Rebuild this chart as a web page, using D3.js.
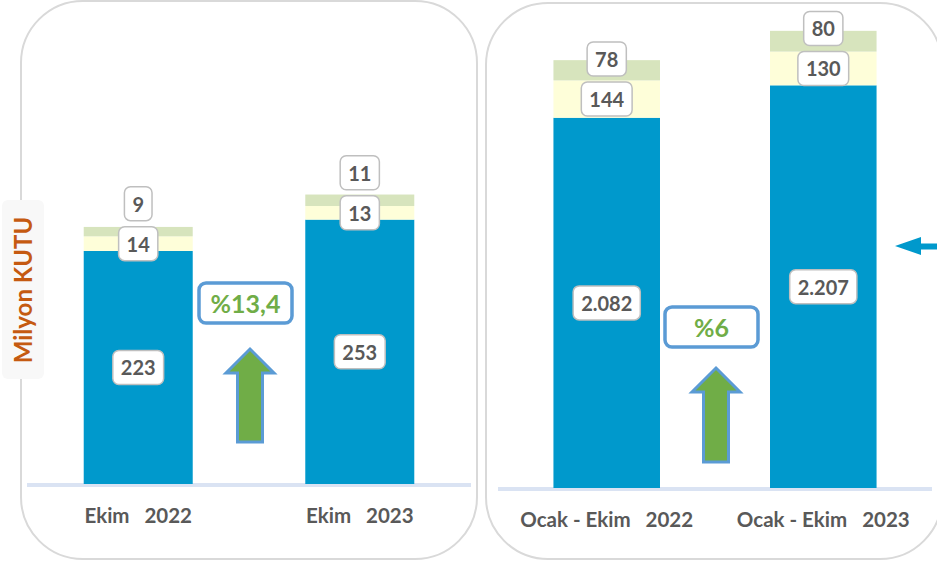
<!DOCTYPE html>
<html><head><meta charset="utf-8">
<script src="https://cdn.jsdelivr.net/npm/d3@7"></script>
<style>
html,body{margin:0;padding:0;background:#fff;}
svg{display:block;font-family:Lato,"Open Sans",sans-serif;}
</style></head>
<body>
<svg id="chart" width="937" height="562"></svg>
<script>
// ---- data ----
const categoriesLeft = ["Ekim   2022", "Ekim   2023"];
const blueLeft = [223, 253];
const yellowLeft = [14, 13];
const greenLeft = [9, 11];
const categoriesRight = ["Ocak - Ekim   2022", "Ocak - Ekim   2023"];
const blueRight = [2082, 2207];
const yellowRight = [144, 130];
const greenRight = [78, 80];
const changeLabels = ["%13,4", "%6"];
const yAxisTitle = "Milyon KUTU";
const fmt = v => d3.format(",")(v).replace(/,/g, ".");

// ---- style ----
const C = {blue:"#0099cc", yellow:"#fefed9", green:"#d7e4bd", text:"#595959",
  pct:"#70ad47", frame:"#5b9bd5", panel:"#d9d9d9", base:"#dae3f3", title:"#c55a11"};
const OPEN = "'Open Sans',sans-serif";

const svg = d3.select("#chart");

// panels
svg.append("rect").attr("x",21).attr("y",1).attr("width",456).attr("height",558)
  .attr("rx",62).attr("ry",62).attr("fill","none").attr("stroke",C.panel).attr("stroke-width",2);
svg.append("rect").attr("x",486).attr("y",3).attr("width",456).attr("height",556)
  .attr("rx",62).attr("ry",62).attr("fill","none").attr("stroke",C.panel).attr("stroke-width",2);

function panel(cfg){
  const {cats, blue, yellow, green, x0, x1, yDomain, yRange, pct, pctY, arrowTop, arrowBottom} = cfg;
  const rows = cats.map((c,i)=>({cat:c, blue:blue[i], yellow:yellow[i], green:green[i]}));
  const x = d3.scaleBand().domain(cats).range([x0,x1]).paddingInner(0.508).paddingOuter(0.256);
  const y = d3.scaleLinear().domain(yDomain).range(yRange);
  const keys = ["blue","yellow","green"];
  const stack = d3.stack().keys(keys)(rows);
  const dmin = yDomain[0];
  const g = svg.append("g");
  // baseline
  g.append("line").attr("x1",x0).attr("x2",x1).attr("y1",y(dmin)+1).attr("y2",y(dmin)+1)
    .attr("stroke",C.base).attr("stroke-width",4);
  stack.forEach(s=>{
    g.selectAll(null).data(s).enter().append("rect")
      .attr("x",d=>x(d.data.cat)).attr("width",x.bandwidth())
      .attr("y",d=>y(d[1]))
      .attr("height",d=>y(Math.max(d[0],dmin))-y(d[1]))
      .attr("fill",C[s.key]);
  });
  // labels
  const boxH = 34, gap = 6;
  function label(cx, cy, text){
    const lg = g.append("g");
    const r = lg.append("rect");
    const t = lg.append("text").attr("x",cx).attr("y",cy).attr("text-anchor","middle")
      .attr("dominant-baseline","central").attr("font-size",20).attr("font-weight",700)
      .attr("fill",C.text).text(text);
    const w = t.node().getComputedTextLength() + 16;
    r.attr("x",cx-w/2).attr("y",cy-boxH/2).attr("width",w).attr("height",boxH)
      .attr("rx",6).attr("fill","#fff").attr("stroke","#bfbfbf").attr("stroke-width",1.5);
  }
  rows.forEach((d,i)=>{
    const cx = x(d.cat)+x.bandwidth()/2;
    const yb = (y(dmin)+y(d.blue))/2;
    const yy = (y(d.blue)+y(d.blue+d.yellow))/2;
    label(cx, yb, fmt(d.blue));
    label(cx, yy, fmt(d.yellow));
    label(cx, yy-boxH-gap, fmt(d.green));
    // category
    g.append("text").attr("x",cx).attr("y",y(dmin)+31).attr("text-anchor","middle")
      .attr("dominant-baseline","central").attr("font-size",20.5).attr("font-weight",700)
      .attr("fill",C.text).style("white-space","pre").attr("xml:space","preserve").text(d.cat);
  });
  // change box + arrow
  const mid = (x(cats[0])+x.bandwidth()+x(cats[1]))/2;
  const pg = g.append("g");
  pg.append("rect").attr("x",mid-50).attr("y",pctY-20).attr("width",93).attr("height",40)
    .attr("rx",7).attr("fill","#fff").attr("stroke",C.frame).attr("stroke-width",3.5);
  pg.append("text").attr("x",mid-3.5).attr("y",pctY).attr("text-anchor","middle")
    .attr("dominant-baseline","central").attr("font-size",25).attr("font-weight",700)
    .attr("fill",C.pct).text(pct);
  const ax = mid+1, hw = 24, sw = 12.5, hh = 24;
  const pts = [[ax,arrowTop],[ax+hw,arrowTop+hh],[ax+sw,arrowTop+hh],[ax+sw,arrowBottom],
    [ax-sw,arrowBottom],[ax-sw,arrowTop+hh],[ax-hw,arrowTop+hh]];
  pg.append("path").attr("d",d3.line()(pts)+"Z").attr("fill",C.pct)
    .attr("stroke",C.frame).attr("stroke-width",3).attr("stroke-linejoin","miter");
  return {x,y};
}

panel({cats:categoriesLeft, blue:blueLeft, yellow:yellowLeft, green:greenLeft,
  x0:27, x1:471, yDomain:[0,300], yRange:[484,484-300*1.045],
  pct:changeLabels[0], pctY:303, arrowTop:349, arrowBottom:442});
const R = panel({cats:categoriesRight, blue:blueRight, yellow:yellowRight, green:greenRight,
  x0:498, x1:932, yDomain:[655,2500], yRange:[488,659.3-0.26*2500],
  pct:changeLabels[1], pctY:327, arrowTop:368, arrowBottom:462});

// small pointer arrow at right edge
svg.append("path").attr("d", d3.line()([[895,246],[921,237],[921,243.5],[940,243.5],[940,249.5],[921,249.5],[921,255]])+"Z")
  .attr("fill",C.blue);

// y title
svg.append("rect").attr("x",2).attr("y",200).attr("width",42).attr("height",179)
  .attr("rx",6).attr("fill","#f8f8f8");
svg.append("text").attr("transform","translate(22,290) rotate(-90)")
  .attr("text-anchor","middle").attr("dominant-baseline","central")
  .attr("font-size",24).attr("font-weight",700).attr("fill",C.title).text(yAxisTitle);
</script>
</body></html>
